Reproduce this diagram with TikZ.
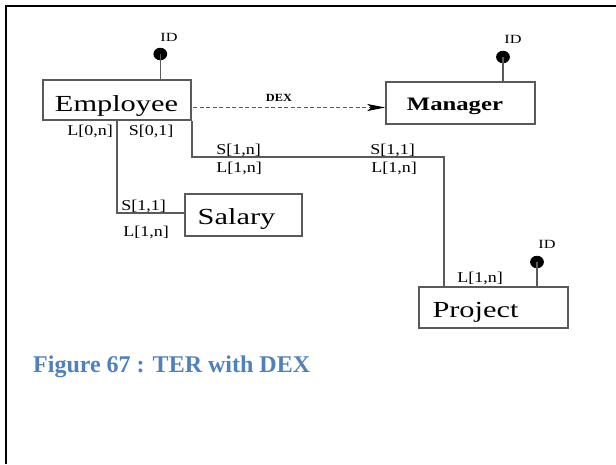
\documentclass[tikz,border=0pt]{standalone}
\usepackage{fontspec}
\setmainfont{Liberation Serif}
\usetikzlibrary{arrows.meta}
\definecolor{capblue}{HTML}{4F81BD}
\definecolor{linegray}{HTML}{5A5A5A}
\begin{document}
\begin{tikzpicture}[x=1pt,y=-1pt,
  entity/.style={draw=linegray, line width=1.5pt, inner sep=0pt, rectangle},
  conn/.style={draw=linegray, line width=1.5pt},
  iddot/.style={circle, fill=black, inner sep=0pt, minimum size=12.5pt, xscale=1.1},
  bigtxt/.style={font=\fontsize{23}{23}\selectfont, xscale=1.32, inner sep=0pt, anchor=base},
  boldtxt/.style={font=\bfseries\fontsize{19}{19}\selectfont, xscale=1.3, inner sep=0pt, anchor=base},
  card/.style={font=\fontsize{15}{15}\selectfont, xscale=1.2, inner sep=0pt, anchor=base},
  idlab/.style={font=\fontsize{12.5}{12.5}\selectfont, xscale=1.3, inner sep=0pt, anchor=base},
  dexlab/.style={font=\bfseries\fontsize{11}{11}\selectfont, xscale=1.12, inner sep=0pt, anchor=base},
  dexline/.style={draw=linegray, line width=1.1pt, dash pattern=on 4pt off 2.5pt, -{Stealth[length=18pt,width=7pt,inset=4pt,color=black]}}]
\useasboundingbox (0,0) rectangle (616,464);
% frame
\draw[line width=2.8pt] (6,464) -- (6,6) -- (616,6);

% entity boxes
\node[entity, minimum width=148pt, minimum height=40pt] (emp) at (117,100) {};
\node[entity, minimum width=149pt, minimum height=42pt] (mgr) at (460.5,103) {};
\node[entity, minimum width=117pt, minimum height=42pt] (sal) at (243.5,215) {};
\node[entity, minimum width=149pt, minimum height=41pt] (proj) at (493.5,307.5) {};

% entity names
\node[bigtxt] (empname) at (116.5,111) {Employee};
\node[boldtxt] (mgrname) at (455,110) {Manager};
\node[bigtxt] (salname) at (236.5,224) {Salary};
\node[bigtxt] (projname) at (475.5,317) {Project};

% identifiers
\node[iddot] (empdot) at (160.3,54) {};
\node[iddot] (mgrdot) at (503,57) {};
\node[iddot] (projdot) at (537,262) {};
\draw[conn] (empdot.center) -- (empdot.center |- emp.north);
\draw[conn] (mgrdot.center) -- (mgrdot.center |- mgr.north);
\draw[conn] (projdot.center) -- (projdot.center |- proj.north);
\node[idlab] (empid) at (169,41.5) {ID};
\node[idlab] (mgrid) at (513,43.5) {ID};
\node[idlab] (projid) at (547,248) {ID};

% DEX
\coordinate (dexs) at (193,107.5);
\draw[dexline] (dexs) -- (dexs -| mgr.west);
\node[dexlab] (dex) at (279,101.5) {DEX};

% Employee -- Salary
\draw[conn] (emp.south) |- (sal.west |- 0,213);
\node[card] (c1) at (90,135) {L[0,n]};
\node[card] (c2) at (151,135) {S[0,1]};
\node[card] (c3) at (143.5,210) {S[1,1]};
\node[card] (c4) at (146,236) {L[1,n]};

% Employee -- Project
\coordinate (pj) at (444,157);
\draw[conn] (emp.south east) |- (pj) -- (pj |- proj.north);
\node[card] (c5) at (238.5,154.5) {S[1,n]};
\node[card] (c6) at (239,172.5) {L[1,n]};
\node[card] (c7) at (392.5,154.5) {S[1,1]};
\node[card] (c8) at (394,172.5) {L[1,n]};
\node[card] (c9) at (480,282) {L[1,n]};

% caption
\node[anchor=base west, font=\bfseries\fontsize{24}{24}\selectfont, text=capblue, inner sep=0pt] (cap) at (33,372) {Figure 67 : TER with DEX};
\end{tikzpicture}
\end{document}
